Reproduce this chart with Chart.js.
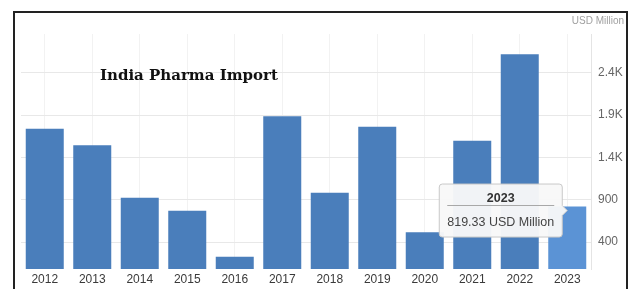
<!DOCTYPE html>
<html>
<head>
<meta charset="utf-8">
<script src="https://cdn.jsdelivr.net/npm/chart.js@4"></script>
<style>
  html, body { margin: 0; padding: 0; background: #fff; overflow: hidden; }
  #wrap { position: relative; width: 633px; height: 289px; }
  #frame {
    position: absolute; left: 13px; top: 11px; width: 611px; height: 300px;
    border: 2px solid #222; pointer-events: none;
  }
</style>
</head>
<body>
<div id="wrap">
  <canvas id="importChart" width="633" height="289"></canvas>
  <div id="frame"></div>
</div>
<script>
const years = ["2012", "2013", "2014", "2015", "2016", "2017", "2018", "2019", "2020", "2021", "2022", "2023"];
const importValues = [1738, 1545, 923, 769, 225, 1888, 982, 1762, 514, 1596, 2621, 819.33];
const yTicks = [400, 900, 1400, 1900, 2400];
const chartTitle = "India Pharma Import";
const unitLabel = "USD Million";

// tooltip sits a little below the bar top, like the original hover
Chart.Tooltip.positioners.barHover = (elements) => {
  if (!elements.length) return false;
  const el = elements[0].element;
  return { x: el.x, y: el.y + 4 };
};

// draws the title inside the plot, the unit label and the tooltip separator
const extrasPlugin = {
  id: "extras",
  afterDraw: (chart) => {
    const ctx = chart.ctx;
    ctx.save();
    ctx.fillStyle = "#111";
    ctx.font = "bold 15px 'DejaVu Serif'";
    ctx.textBaseline = "middle";
    ctx.textAlign = "left";
    ctx.fillText(chartTitle, 100, 76);

    ctx.fillStyle = "#a0a0a0";
    ctx.font = "10px 'Liberation Sans'";
    ctx.textAlign = "right";
    ctx.fillText(unitLabel, 624, 21);
    ctx.restore();
  },
  afterTooltipDraw: (chart) => {
    const tt = chart.tooltip;
    if (!tt || !tt.opacity) return;
    const ctx = chart.ctx;
    ctx.save();
    ctx.strokeStyle = "#a8a8a8";
    ctx.lineWidth = 1;
    const y = Math.round(tt.y + 21) + 0.5;
    ctx.beginPath();
    ctx.moveTo(tt.x + 8, y);
    ctx.lineTo(tt.x + tt.width - 8, y);
    ctx.stroke();
    ctx.restore();
  },
};

const ctx = document.getElementById("importChart").getContext("2d");
const myChart = new Chart(ctx, {
  type: "bar",
  data: {
    labels: years,
    datasets: [
      {
        label: unitLabel,
        data: importValues,
        backgroundColor: "#4a7ebb",
        hoverBackgroundColor: "#5b93d5",
        borderWidth: 0,
        barPercentage: 0.8,
        categoryPercentage: 1.0,
      },
    ],
  },
  options: {
    responsive: false,
    animation: false,
    events: [],
    layout: { padding: { left: 21, top: 34, right: 0, bottom: 0 } },
    plugins: {
      legend: { display: false },
      title: { display: false },
      tooltip: {
        enabled: true,
        position: "barHover",
        xAlign: "right",
        yAlign: "center",
        backgroundColor: "rgba(248,248,248,0.96)",
        borderColor: "#c8c8c8",
        borderWidth: 1,
        cornerRadius: 3,
        caretSize: 5,
        caretPadding: 0,
        padding: { x: 8, y: 7 },
        displayColors: false,
        titleColor: "#333",
        bodyColor: "#444",
        titleAlign: "center",
        bodyAlign: "center",
        titleFont: { family: "Liberation Sans", size: 12.5, weight: "bold" },
        bodyFont: { family: "Liberation Sans", size: 12.5 },
        titleMarginBottom: 9,
        callbacks: {
          title: (items) => items[0].label,
          label: (item) => item.raw.toFixed(2) + " " + unitLabel,
        },
      },
    },
    scales: {
      x: {
        grid: { display: true, offset: false, color: "#f2f2f2", drawTicks: false },
        border: { display: false },
        ticks: {
          color: "#3a3a3a",
          font: { family: "Liberation Sans", size: 12 },
          padding: 3,
          maxRotation: 0,
          autoSkip: false,
        },
        afterFit: (scale) => { scale.height = 20; },
      },
      y: {
        position: "right",
        min: 81,
        max: 2859,
        grid: { color: "#e8e8e8", drawTicks: false },
        border: { display: true, color: "#e4e4e4" },
        afterBuildTicks: (scale) => {
          scale.ticks = yTicks.map((v) => ({ value: v }));
        },
        ticks: {
          color: "#666",
          font: { family: "Liberation Sans", size: 12 },
          padding: 7,
          callback: (v) => (v >= 1000 ? (v / 1000).toFixed(1) + "K" : String(v)),
        },
        afterFit: (scale) => { scale.width = 42; },
      },
    },
  },
  plugins: [extrasPlugin],
});

const active = [{ datasetIndex: 0, index: 11 }];
myChart.setActiveElements(active);
myChart.tooltip.setActiveElements(active, { x: 567, y: 209 });
myChart.update();
</script>
</body>
</html>
